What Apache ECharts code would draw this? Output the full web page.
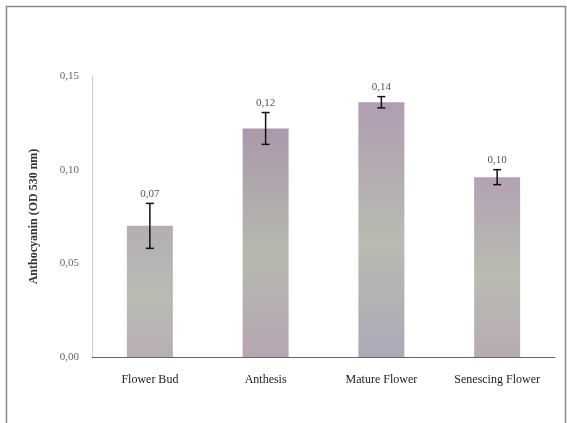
<!DOCTYPE html>
<html><head><meta charset="utf-8">
<script src="https://cdn.jsdelivr.net/npm/echarts@6/dist/echarts.min.js"></script>
<style>html,body{margin:0;padding:0;background:#fff}#c{width:567px;height:423px}</style>
</head><body><div id="c"></div>
<script>
var categories = ['Flower Bud', 'Anthesis', 'Mature Flower', 'Senescing Flower'];
var values = [0.070, 0.122, 0.136, 0.096];
var errors = [0.012, 0.0085, 0.003, 0.004];
var valueLabels = ['0,07', '0,12', '0,14', '0,10'];
var yTicks = ['0,00', '0,05', '0,10', '0,15'];

var chart = echarts.init(document.getElementById('c'));
var serif = '"Liberation Serif", "DejaVu Serif", serif';
function fill(top, mid, bot) {
  return new echarts.graphic.LinearGradient(0, 0, 0, 1, [
    {offset: 0, color: top}, {offset: 0.55, color: mid}, {offset: 1, color: bot}
  ]);
}
var barStyles = [
  fill('#b4adb4', '#b8bcb2', '#b8adb6'),
  fill('#ab98ac', '#b6b9ae', '#b7a5b4'),
  fill('#b09db2', '#b7bbb0', '#aea9b8'),
  fill('#b3a2b5', '#b9bbb0', '#b8abb4')
];
chart.setOption({
  animation: false,
  backgroundColor: '#fff',
  graphic: [{
    type: 'rect', shape: {x: 6.5, y: 6.5, width: 559, height: 500},
    style: {fill: 'none', stroke: '#8a8a8a', lineWidth: 1.5}, silent: true
  }],
  grid: {left: 92, right: 12, top: 76, bottom: 66},
  xAxis: {
    type: 'category', data: categories,
    axisLine: {lineStyle: {color: '#666', width: 1}},
    axisTick: {show: false},
    axisLabel: {color: '#222', fontFamily: serif, fontSize: 12, margin: 17}
  },
  yAxis: {
    type: 'value', min: 0, max: 0.15, interval: 0.05,
    name: 'Anthocyanin (OD 530 nm)', nameLocation: 'middle', nameGap: 52,
    nameTextStyle: {fontFamily: serif, fontWeight: 'bold', fontSize: 12, color: '#333'},
    axisLine: {show: true, lineStyle: {color: '#ccc'}},
    axisTick: {show: false},
    splitLine: {show: false},
    axisLabel: {
      color: '#666', fontFamily: serif, fontSize: 11, margin: 13,
      formatter: function (v) { return yTicks[Math.round(v / 0.05)]; }
    }
  },
  series: [{
    type: 'bar', barWidth: 46,
    data: values.map(function (v, i) { return {value: v, itemStyle: {color: barStyles[i]}}; })
  }, {
    type: 'custom',
    data: values.map(function (v, i) { return [i, v, errors[i]]; }),
    renderItem: function (params, api) {
      var i = api.value(0), v = api.value(1), e = api.value(2);
      var top = api.coord([i, v + e]);
      var bot = api.coord([i, v - e]);
      var x = top[0], hw = 4;
      return {
        type: 'group',
        children: [
          {type: 'line', shape: {x1: x, y1: top[1], x2: x, y2: bot[1]}, style: {stroke: '#111', lineWidth: 1.5}},
          {type: 'line', shape: {x1: x - hw, y1: top[1], x2: x + hw, y2: top[1]}, style: {stroke: '#111', lineWidth: 1.5}},
          {type: 'line', shape: {x1: x - hw, y1: bot[1], x2: x + hw, y2: bot[1]}, style: {stroke: '#111', lineWidth: 1.5}},
          {type: 'text', x: x, y: top[1] - 4, style: {
            text: valueLabels[params.dataIndex], fill: '#555', font: '11px ' + serif,
            textAlign: 'center', textVerticalAlign: 'bottom'
          }}
        ]
      };
    },
    z: 5
  }]
});
</script></body></html>
